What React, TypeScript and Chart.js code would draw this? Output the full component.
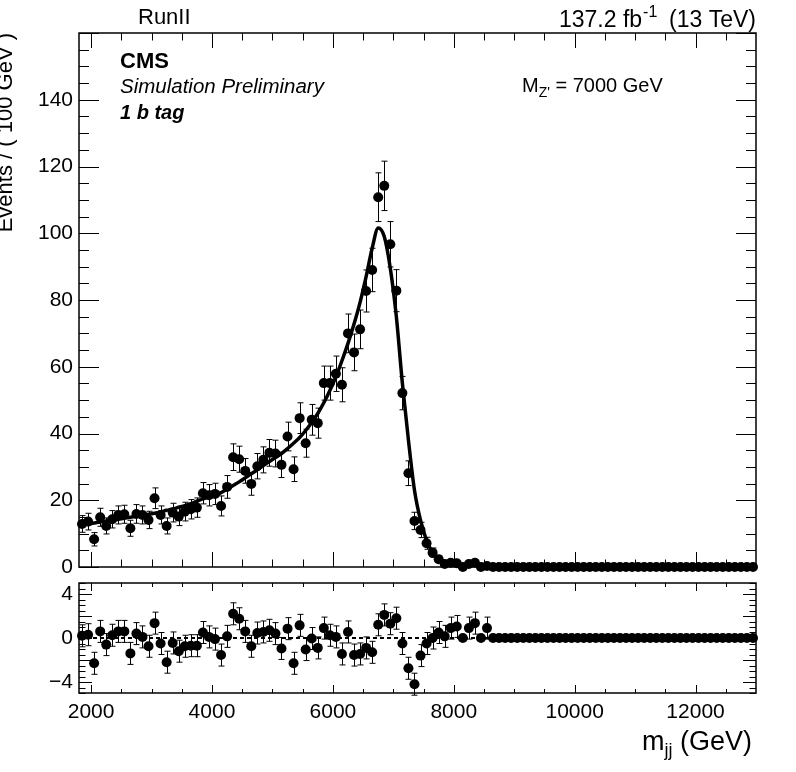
import React, { useEffect, useRef } from 'react';
import { Chart, registerables } from 'chart.js';

Chart.register(...registerables);

// bin centres of m_jj (GeV), 100 GeV bins
const binCenters = [
  1850, 1950, 2050, 2150, 2250, 2350, 2450, 2550, 2650, 2750,
  2850, 2950, 3050, 3150, 3250, 3350, 3450, 3550, 3650, 3750,
  3850, 3950, 4050, 4150, 4250, 4350, 4450, 4550, 4650, 4750,
  4850, 4950, 5050, 5150, 5250, 5350, 5450, 5550, 5650, 5750,
  5850, 5950, 6050, 6150, 6250, 6350, 6450, 6550, 6650, 6750,
  6850, 6950, 7050, 7150, 7250, 7350, 7450, 7550, 7650, 7750,
  7850, 7950, 8050, 8150, 8250, 8350, 8450, 8550, 8650, 8750,
  8850, 8950, 9050, 9150, 9250, 9350, 9450, 9550, 9650, 9750,
  9850, 9950, 10050, 10150, 10250, 10350, 10450, 10550, 10650, 10750,
  10850, 10950, 11050, 11150, 11250, 11350, 11450, 11550, 11650, 11750,
  11850, 11950, 12050, 12150, 12250, 12350, 12450, 12550, 12650, 12750,
  12850, 12950,
];

const eventCounts = [
  12.9, 13.6, 8.3, 14.9, 12.3, 14.3, 15.6, 15.8, 11.6, 15.9,
  15.6, 14.1, 20.6, 15.6, 12.3, 16.3, 15.1, 16.6, 17.3, 17.8,
  22.1, 21.5, 21.9, 18.3, 24.0, 32.9, 32.3, 28.8, 24.9, 30.2,
  32.1, 34.2, 34.0, 30.6, 39.1, 29.3, 44.6, 37.1, 44.1, 43.1,
  55.1, 55.1, 57.9, 54.6, 70.0, 64.3, 71.2, 82.7, 89.0, 110.8,
  114.2, 96.7, 82.8, 52.1, 28.1, 13.8, 11.1, 7.1, 4.3, 2.3,
  0.9, 1.3, 1.1, 0, 0.9, 1.3, 0, 0.3, 0, 0,
  0, 0, 0, 0, 0, 0, 0, 0, 0, 0,
  0, 0, 0, 0, 0, 0, 0, 0, 0, 0,
  0, 0, 0, 0, 0, 0, 0, 0, 0, 0,
  0, 0, 0, 0, 0, 0, 0, 0, 0, 0,
  0, 0,
];

const eventErrors = [
  2.5, 2.5, 2.0, 2.7, 2.4, 2.6, 2.7, 2.7, 2.4, 2.8,
  2.7, 2.6, 3.1, 2.7, 2.4, 2.8, 2.7, 2.8, 2.9, 2.9,
  3.2, 3.2, 3.2, 3.0, 3.4, 4.0, 3.9, 3.7, 3.4, 3.8,
  3.9, 4.0, 4.0, 3.8, 4.3, 3.7, 4.6, 4.2, 4.6, 4.5,
  5.1, 5.1, 5.3, 5.1, 5.8, 5.5, 5.8, 6.3, 6.5, 7.3,
  7.4, 6.8, 6.3, 5.0, 3.7, 2.6, 2.3, 1.8, 1.4, 1.0,
  0.65, 0.8, 0.7, 0, 0.65, 0.8, 0, 0.4, 0, 0,
  0, 0, 0, 0, 0, 0, 0, 0, 0, 0,
  0, 0, 0, 0, 0, 0, 0, 0, 0, 0,
  0, 0, 0, 0, 0, 0, 0, 0, 0, 0,
  0, 0, 0, 0, 0, 0, 0, 0, 0, 0,
  0, 0,
];

const fitCurve = [
  12.7, 13.0, 13.2, 13.5, 13.8, 14.0, 14.3, 14.6, 14.9, 15.2,
  15.5, 15.8, 16.1, 16.5, 17.0, 17.4, 17.9, 18.4, 19.0, 19.7,
  20.4, 21.0, 21.6, 22.3, 23.3, 24.4, 25.5, 26.7, 27.9, 29.1,
  30.4, 31.6, 32.8, 34.0, 35.5, 37.1, 38.8, 40.9, 43.3, 46.0,
  49.2, 52.9, 57.0, 61.8, 67.0, 72.8, 79.3, 87.0, 95.5, 101.6,
  99.0, 89.5, 75.0, 55.0, 38.0, 23.0, 14.0, 8.0, 4.3, 2.0,
  0.8, 0.5, 0.3, 0.2, 0.15, 0.1, 0.05, 0.02, 0, 0,
  0, 0, 0, 0, 0, 0, 0, 0, 0, 0,
  0, 0, 0, 0, 0, 0, 0, 0, 0, 0,
  0, 0, 0, 0, 0, 0, 0, 0, 0, 0,
  0, 0, 0, 0, 0, 0, 0, 0, 0, 0,
  0, 0,
];

const pullValues = [
  0.2, 0.3, -2.3, 0.6, -0.6, 0.25, 0.6, 0.6, -1.4, 0.4,
  0.1, -0.75, 1.35, -0.5, -2.2, -0.45, -1.2, -0.75, -0.7, -0.7,
  0.5, 0.1, -0.1, -1.55, 0.15, 2.2, 1.75, 0.6, -0.75, 0.45,
  0.55, 0.7, 0.4, -0.95, 0.85, -2.3, 1.15, -1.05, -0.05, -0.9,
  0.9, 0.25, 0.1, -1.45, 0.55, -1.55, -1.45, -0.9, -1.3, 1.2,
  2.1, 1.3, 1.8, -0.5, -2.75, -4.2, -1.6, -0.5, 0, 0.5,
  0.15, 0.9, 1.05, 0, 0.9, 1.35, 0, 0.9, 0, 0,
  0, 0, 0, 0, 0, 0, 0, 0, 0, 0,
  0, 0, 0, 0, 0, 0, 0, 0, 0, 0,
  0, 0, 0, 0, 0, 0, 0, 0, 0, 0,
  0, 0, 0, 0, 0, 0, 0, 0, 0, 0,
  0, 0,
];

const xTicks = [2000, 4000, 6000, 8000, 10000, 12000];
const mainYTicks = [0, 20, 40, 60, 80, 100, 120, 140];
const pullYTicks = [-4, -2, 0, 2, 4];

const FONT = '"Liberation Sans", Arial, Helvetica, sans-serif';

// vertical error bars with small caps, drawn through the library's scales
function errorBars(datasetIndex: number, values: number[], errors: number[]) {
  return {
    id: 'errorBars',
    afterDatasetsDraw(chart: any) {
      const meta = chart.getDatasetMeta(datasetIndex);
      const ys = chart.scales.y;
      const ctx = chart.ctx;
      ctx.save();
      ctx.strokeStyle = '#000';
      ctx.lineWidth = 1;
      meta.data.forEach((pt: any, i: number) => {
        const e = errors[i];
        if (!e) return;
        const x = Math.round(pt.x) + 0.5;
        const top = ys.getPixelForValue(values[i] + e);
        const bot = ys.getPixelForValue(values[i] - e);
        ctx.beginPath();
        ctx.moveTo(x, top);
        ctx.lineTo(x, bot);
        ctx.moveTo(x - 3, top);
        ctx.lineTo(x + 3, top);
        ctx.moveTo(x - 3, bot);
        ctx.lineTo(x + 3, bot);
        ctx.stroke();
      });
      ctx.restore();
    },
  };
}

// ROOT style frame with ticks pointing inwards on all four sides
function frameTicks(cfg: { xMajor: number; xMinor: number; yMajor: number; yMinor: number; xLen: number; yLen: number }) {
  return {
    id: 'frameTicks',
    afterDraw(chart: any) {
      const { ctx, chartArea: a } = chart;
      const xs = chart.scales.x;
      const ys = chart.scales.y;
      ctx.save();
      ctx.strokeStyle = '#000';
      ctx.lineWidth = 1;
      ctx.beginPath();
      for (let n = Math.ceil(xs.min / cfg.xMinor); n * cfg.xMinor < xs.max; n++) {
        const v = n * cfg.xMinor;
        const px = Math.round(xs.getPixelForValue(v)) + 0.5;
        const major = v % cfg.xMajor === 0;
        const len = major ? cfg.xLen : cfg.xLen / 2;
        ctx.moveTo(px, a.bottom);
        ctx.lineTo(px, a.bottom - len);
        ctx.moveTo(px, a.top);
        ctx.lineTo(px, a.top + len);
      }
      for (let n = Math.ceil(ys.min / cfg.yMinor); n * cfg.yMinor <= ys.max; n++) {
        const v = n * cfg.yMinor;
        const py = Math.round(ys.getPixelForValue(v)) + 0.5;
        const major = Math.abs(v / cfg.yMajor - Math.round(v / cfg.yMajor)) < 1e-6;
        const len = major ? cfg.yLen : cfg.yLen / 2;
        ctx.moveTo(a.left, py);
        ctx.lineTo(a.left + len, py);
        ctx.moveTo(a.right, py);
        ctx.lineTo(a.right - len, py);
      }
      ctx.stroke();
      ctx.lineWidth = 1.5;
      ctx.strokeRect(a.left, a.top, a.right - a.left, a.bottom - a.top);
      ctx.restore();
    },
  };
}

const mainLabels = {
  id: 'mainLabels',
  afterDraw(chart: any) {
    const ctx = chart.ctx;
    ctx.save();
    ctx.fillStyle = '#000';
    ctx.textBaseline = 'alphabetic';
    ctx.textAlign = 'left';

    ctx.font = `22px ${FONT}`;
    ctx.fillText('RunII', 138, 24);

    // luminosity label, right aligned to the frame
    const big = `23px ${FONT}`;
    const small = `16px ${FONT}`;
    ctx.font = big;
    const w1 = ctx.measureText('137.2 fb').width;
    const w3 = ctx.measureText('  (13 TeV)').width;
    ctx.font = small;
    const w2 = ctx.measureText('-1').width;
    const x0 = 756 - (w1 + w2 + w3);
    ctx.font = big;
    ctx.fillText('137.2 fb', x0, 27);
    ctx.font = small;
    ctx.fillText('-1', x0 + w1 + 1, 17);
    ctx.font = big;
    ctx.fillText('  (13 TeV)', x0 + w1 + w2, 27);

    ctx.font = `bold 22px ${FONT}`;
    ctx.fillText('CMS', 120, 68);
    ctx.font = `italic 20.5px ${FONT}`;
    ctx.fillText('Simulation Preliminary', 120, 93);
    ctx.font = `italic bold 20px ${FONT}`;
    ctx.fillText('1 b tag', 120, 119);

    // signal mass label
    ctx.font = `20px ${FONT}`;
    ctx.fillText('M', 522, 92);
    const wm = ctx.measureText('M').width;
    ctx.font = `14px ${FONT}`;
    ctx.fillText("Z'", 522 + wm, 97);
    const wz = ctx.measureText("Z'").width;
    ctx.font = `20px ${FONT}`;
    ctx.fillText(' = 7000 GeV', 522 + wm + wz, 92);

    // y axis title, partly cut at the left edge as in the original
    ctx.translate(12, 33);
    ctx.rotate(-Math.PI / 2);
    ctx.textAlign = 'right';
    ctx.font = `22px ${FONT}`;
    ctx.fillText('Events / ( 100 GeV )', 0, 0);
    ctx.restore();
  },
};

const pullLabels = {
  id: 'pullLabels',
  beforeDatasetsDraw(chart: any) {
    const { ctx, chartArea: a } = chart;
    const y0 = chart.scales.y.getPixelForValue(0);
    ctx.save();
    ctx.strokeStyle = '#000';
    ctx.lineWidth = 2;
    ctx.setLineDash([4, 3]);
    ctx.beginPath();
    ctx.moveTo(a.left, y0);
    ctx.lineTo(a.right, y0);
    ctx.stroke();
    ctx.restore();
  },
  afterDraw(chart: any) {
    const ctx = chart.ctx;
    ctx.save();
    ctx.fillStyle = '#000';
    ctx.textBaseline = 'alphabetic';
    ctx.textAlign = 'left';
    const big = `27px ${FONT}`;
    const sub = `18px ${FONT}`;
    ctx.font = big;
    const w1 = ctx.measureText('m').width;
    const w3 = ctx.measureText(' (GeV)').width;
    ctx.font = sub;
    const w2 = ctx.measureText('jj').width;
    const x0 = 752 - (w1 + w2 + w3);
    const base = 175;
    ctx.font = big;
    ctx.fillText('m', x0, base);
    ctx.font = sub;
    ctx.fillText('jj', x0 + w1, base + 6);
    ctx.font = big;
    ctx.fillText(' (GeV)', x0 + w1 + w2, base);
    ctx.restore();
  },
};

const tickFont = { family: FONT, size: 21 };

// keep chart area exactly where the layout puts it (no room for label overhang)
const noOverhang = (s: any) => {
  s.paddingTop = 0;
  s.paddingBottom = 0;
  s.paddingLeft = 0;
  s.paddingRight = 0;
};

const App: React.FC = () => {
  const mainRef = useRef<HTMLCanvasElement>(null);
  const pullRef = useRef<HTMLCanvasElement>(null);

  useEffect(() => {
    if (!mainRef.current || !pullRef.current) return;

    const mainChart = new Chart(mainRef.current, {
      type: 'scatter',
      data: {
        datasets: [
          {
            type: 'scatter',
            data: binCenters.map((x, i) => ({ x, y: eventCounts[i] })),
            pointRadius: 5,
            pointHoverRadius: 5,
            backgroundColor: '#000',
            borderWidth: 0,
            clip: false,
          },
          {
            type: 'line',
            data: binCenters.map((x, i) => ({ x, y: fitCurve[i] })),
            borderColor: '#000',
            borderWidth: 3.5,
            pointRadius: 0,
            cubicInterpolationMode: 'monotone',
            fill: false,
          } as any,
        ],
      },
      options: {
        animation: false,
        responsive: true,
        maintainAspectRatio: false,
        layout: { padding: { left: 0, right: 40, top: 33, bottom: 13 } },
        plugins: { legend: { display: false }, tooltip: { enabled: false } },
        scales: {
          x: { type: 'linear', min: 1800, max: 13000, display: false },
          y: {
            type: 'linear',
            min: 0,
            max: 160,
            grid: { display: false, drawTicks: false },
            border: { display: false },
            afterFit: (s: any) => { s.width = 79; noOverhang(s); },
            afterBuildTicks: (s: any) => { s.ticks = mainYTicks.map((v) => ({ value: v })); },
            ticks: { color: '#000', font: tickFont, padding: 6, callback: (v: any) => String(v) },
          },
        },
      },
      plugins: [
        errorBars(0, eventCounts, eventErrors),
        frameTicks({ xMajor: 2000, xMinor: 500, yMajor: 20, yMinor: 5, xLen: 15, yLen: 20 }),
        mainLabels,
      ],
    });

    const pullChart = new Chart(pullRef.current, {
      type: 'scatter',
      data: {
        datasets: [
          {
            type: 'scatter',
            data: binCenters.map((x, i) => ({ x, y: pullValues[i] })),
            pointRadius: 5,
            pointHoverRadius: 5,
            backgroundColor: '#000',
            borderWidth: 0,
            clip: false,
          },
        ],
      },
      options: {
        animation: false,
        responsive: true,
        maintainAspectRatio: false,
        layout: { padding: { left: 0, right: 40, top: 8, bottom: 0 } },
        plugins: { legend: { display: false }, tooltip: { enabled: false } },
        scales: {
          x: {
            type: 'linear',
            min: 1800,
            max: 13000,
            grid: { display: false, drawTicks: false },
            border: { display: false },
            afterFit: (s: any) => { s.height = 79; noOverhang(s); },
            afterBuildTicks: (s: any) => { s.ticks = xTicks.map((v) => ({ value: v })); },
            ticks: { color: '#000', font: tickFont, padding: 7, maxRotation: 0, autoSkip: false, callback: (v: any) => String(v) },
          },
          y: {
            type: 'linear',
            min: -5,
            max: 5,
            grid: { display: false, drawTicks: false },
            border: { display: false },
            afterFit: (s: any) => { s.width = 79; noOverhang(s); },
            afterBuildTicks: (s: any) => { s.ticks = pullYTicks.map((v) => ({ value: v })); },
            ticks: { color: '#000', font: tickFont, padding: 6, callback: (v: any) => String(v).replace('-', '\u2212') },
          },
        },
      },
      plugins: [
        errorBars(0, pullValues, eventCounts.map((c) => (c > 0 ? 1 : 0))),
        frameTicks({ xMajor: 2000, xMinor: 500, yMajor: 2, yMinor: 0.5, xLen: 8, yLen: 13 }),
        pullLabels,
      ],
    });

    return () => {
      mainChart.destroy();
      pullChart.destroy();
    };
  }, []);

  return (
    <div style={{ position: 'fixed', left: 0, top: 0, width: 796, height: 772, background: '#fff' }}>
      <div style={{ position: 'absolute', left: 0, top: 0, width: 796, height: 580 }}>
        <canvas ref={mainRef} />
      </div>
      <div style={{ position: 'absolute', left: 0, top: 575, width: 796, height: 197 }}>
        <canvas ref={pullRef} />
      </div>
    </div>
  );
};

export default App;
